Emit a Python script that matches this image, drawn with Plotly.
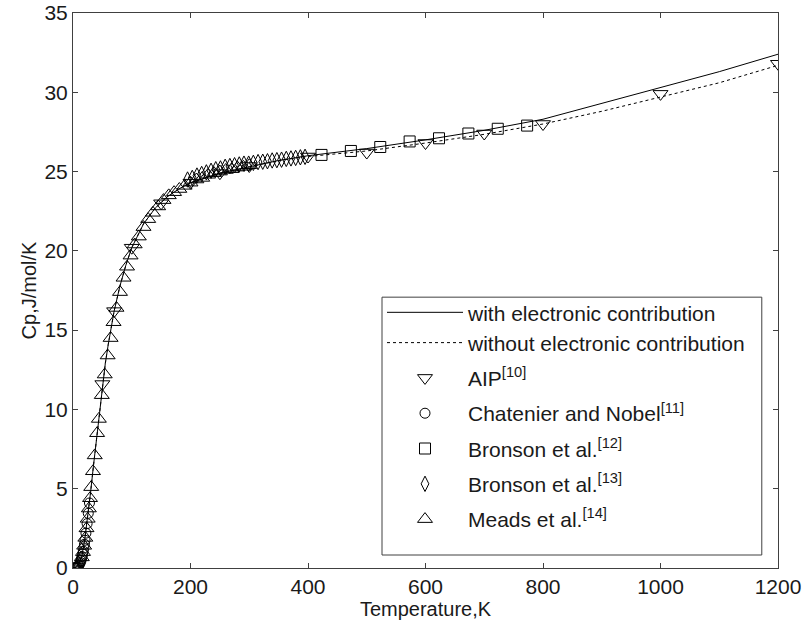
import plotly.graph_objects as go

# Model curves
T_curve = [0, 5, 10, 15, 20, 25, 30, 35, 40, 45, 50, 55, 60, 70, 80, 90, 100, 110, 120, 140,
           160, 180, 200, 250, 300, 350, 400, 500, 600, 700, 800, 900, 1000, 1100, 1200]
cp_with = [0, 0.04, 0.25, 0.75, 1.8, 3.2, 4.8, 6.5, 8.2, 9.9, 11.5, 12.9, 14.1, 16.2, 17.8, 19.1,
           20.2, 21.0, 21.7, 22.7, 23.4, 23.9, 24.3, 24.9, 25.3, 25.7, 26.0, 26.45, 27.0, 27.6,
           28.3, 29.3, 30.3, 31.3, 32.4]
cp_without = [0, 0.04, 0.25, 0.75, 1.8, 3.2, 4.8, 6.5, 8.2, 9.9, 11.5, 12.9, 14.1, 16.2, 17.8, 19.1,
              20.2, 21.0, 21.7, 22.7, 23.4, 23.9, 24.3, 24.9, 25.3, 25.7, 25.95, 26.3, 26.8, 27.35,
              28.0, 28.8, 29.7, 30.6, 31.7]

# AIP [10]
T_aip = [50, 70, 100, 150, 200, 250, 300, 400, 500, 600, 700, 800, 1000, 1200]
cp_aip = [11.6, 16.2, 20.2, 23.0, 24.3, 24.9, 25.35, 25.95, 26.2, 26.8, 27.4, 28.0, 29.9, 31.8]

# Chatenier and Nobel [11]
T_cn = [1.5, 2.5, 3.5, 4.5, 5.5, 6.5, 7.5, 8.5, 9.5, 10.5, 11.5, 12.5, 13.5, 14.5, 15.5, 16.5,
        17.5, 18.5, 19.5, 20.5, 22, 24, 26, 28]
cp_cn = [0.001, 0.004, 0.01, 0.018, 0.03, 0.05, 0.075, 0.11, 0.15, 0.21, 0.28, 0.36, 0.46, 0.58,
         0.72, 0.88, 1.06, 1.26, 1.5, 1.75, 2.2, 2.8, 3.45, 4.1]

# Bronson et al. [12]
T_b12 = [423, 473, 523, 573, 623, 673, 723, 773]
cp_b12 = [26.05, 26.3, 26.55, 26.9, 27.1, 27.4, 27.7, 27.9]

# Bronson et al. [13]
T_b13 = [195, 203, 211, 219, 227, 235, 243, 251, 259, 267, 275, 283, 291, 299, 307, 315, 323,
         331, 339, 347, 355, 363, 371, 379, 387, 395]
cp_b13 = [24.5, 24.6, 24.75, 24.85, 24.95, 25.05, 25.15, 25.2, 25.3, 25.35, 25.4, 25.45, 25.5,
          25.5, 25.55, 25.6, 25.62, 25.65, 25.7, 25.72, 25.75, 25.8, 25.83, 25.86, 25.9, 25.93]

# Meads et al. [14]
T_meads = [15, 17, 19, 21, 23, 25, 27, 29, 31, 34, 37, 41, 44, 49, 54, 59, 64, 69, 74, 80, 86,
           92, 98, 105, 112, 120, 128, 136, 145, 154, 163, 172, 181, 190, 200, 210, 220, 230,
           240, 250, 260, 270, 280, 290, 300]
cp_meads = [0.67, 1.0, 1.4, 1.9, 2.5, 3.1, 3.75, 4.4, 5.1, 6.1, 7.1, 8.5, 9.4, 10.9, 12.2, 13.4,
            14.5, 15.5, 16.4, 17.4, 18.3, 19.0, 19.7, 20.4, 20.9, 21.5, 22.0, 22.4, 22.8, 23.2,
            23.5, 23.7, 23.9, 24.1, 24.3, 24.5, 24.6, 24.8, 24.9, 25.0, 25.1, 25.15, 25.25, 25.3,
            25.4]

FONT = "Liberation Sans, Arial, sans-serif"

fig = go.Figure()
fig.add_trace(go.Scatter(x=T_curve, y=cp_with, mode="lines", name="with electronic contribution",
                         legendgroup="curves", line=dict(color="black", width=1)))
fig.add_trace(go.Scatter(x=T_curve, y=cp_without, mode="lines", name="without electronic contribution",
                         legendgroup="curves", line=dict(color="black", width=1, dash="dot")))


def mk(symbol, size):
    return dict(symbol=symbol, size=size, color="black", line=dict(color="black", width=1))


fig.add_trace(go.Scatter(x=T_aip, y=cp_aip, mode="markers", name="AIP<sup>[10]</sup>",
                         legendgroup="g10", marker=mk("triangle-down-open", 13)))
fig.add_trace(go.Scatter(x=T_cn, y=cp_cn, mode="markers", name="Chatenier and Nobel<sup>[11]</sup>",
                         legendgroup="g11", marker=mk("circle-open", 10)))
fig.add_trace(go.Scatter(x=T_b12, y=cp_b12, mode="markers", name="Bronson et al.<sup>[12]</sup>",
                         legendgroup="g12", marker=mk("square-open", 11)))
fig.add_trace(go.Scatter(x=T_b13, y=cp_b13, mode="markers", name="Bronson et al.<sup>[13]</sup>",
                         legendgroup="g13", marker=mk("diamond-tall-open", 11)))
fig.add_trace(go.Scatter(x=T_meads, y=cp_meads, mode="markers", name="Meads et al.<sup>[14]</sup>",
                         legendgroup="g14", marker=mk("triangle-up-open", 13)))

axis_common = dict(showgrid=False, zeroline=False, showline=True, linecolor="#404040", linewidth=1,
                   mirror="ticks", ticks="inside", ticklen=5, tickcolor="#404040", automargin=False,
                   tickfont=dict(family=FONT, size=21, color="#1a1a1a"),
                   title_font=dict(family=FONT, size=20, color="#1a1a1a"))

fig.update_xaxes(range=[0, 1200], tickvals=[0, 200, 400, 600, 800, 1000, 1200],
                 title_text="Temperature,K", title_standoff=2, **axis_common)
fig.update_yaxes(range=[0, 35], tickvals=[0, 5, 10, 15, 20, 25, 30, 35],
                 title_text="Cp,J/mol/K", title_standoff=2, **axis_common)

# legend frame (drawn as a shape so it can span the reference's box)
fig.add_shape(type="rect", xref="paper", yref="paper", x0=0.4383, x1=0.977, y0=0.0234, y1=0.488,
              line=dict(color="#404040", width=1), fillcolor="rgba(0,0,0,0)", layer="above")

fig.update_layout(
    width=804, height=633,
    margin=dict(l=73, r=26, t=13, b=65),
    paper_bgcolor="white", plot_bgcolor="white",
    font=dict(family=FONT, size=21, color="#1a1a1a"),
    legend=dict(x=0.4383, y=0.497, xanchor="left", yanchor="top",
                borderwidth=0, bgcolor="rgba(0,0,0,0)",
                font=dict(family=FONT, size=21, color="#1a1a1a"),
                itemwidth=76, tracegroupgap=5, groupclick="toggleitem"),
    showlegend=True,
)

fig.write_html("out.html")
